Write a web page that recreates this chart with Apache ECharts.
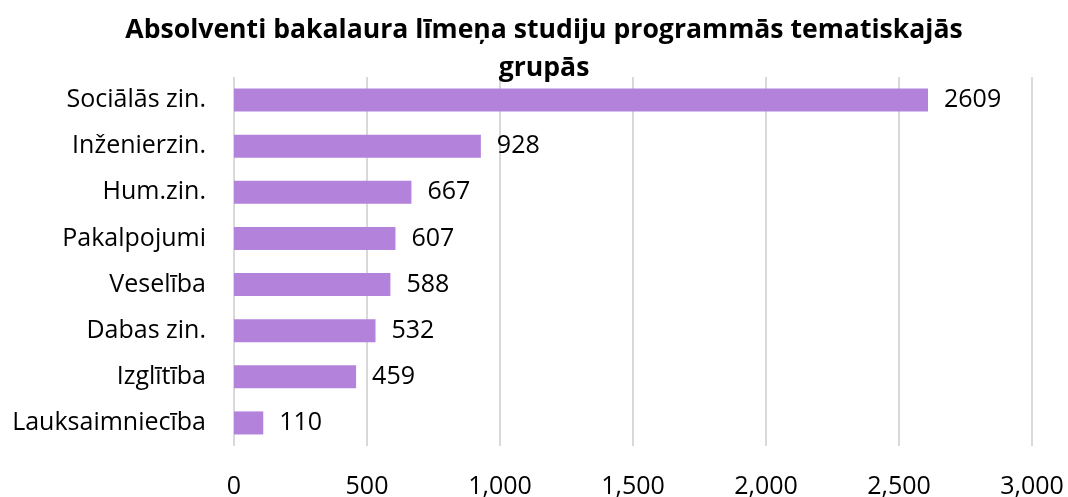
<!DOCTYPE html>
<html>
<head>
<meta charset="utf-8">
<script src="https://cdn.jsdelivr.net/npm/echarts@6/dist/echarts.min.js"></script>
<style>
html,body{margin:0;padding:0;background:#fff;}
#chart{width:1068px;height:497px;}
</style>
</head>
<body>
<div id="chart"></div>
<script>
// kategorijas (no apakšas uz augšu)
var categories = ["Lauksaimniecība", "Izglītība", "Dabas zin.", "Veselība", "Pakalpojumi", "Hum.zin.", "Inženierzin.", "Sociālās zin."];
var values = [110, 459, 532, 588, 607, 667, 928, 2609];
var xTicks = [0, 500, 1000, 1500, 2000, 2500, 3000];

var font = '"Open Sans", sans-serif';

var myChart = echarts.init(document.getElementById("chart"));
var option = {
	animation: false,
	title: {
		text: "Absolventi bakalaura līmeņa studiju programmās tematiskajās\ngrupās",
		left: 539,
		textAlign: "center",
		top: 6,
		textStyle: {
			fontFamily: font,
			fontWeight: "bold",
			fontSize: 26.6,
			lineHeight: 38,
			color: "#000"
		}
	},
	grid: {
		left: 234,
		right: 36,
		top: 77,
		bottom: 51,
		outerBoundsMode: "none",
		containLabel: false
	},
	xAxis: {
		type: "value",
		min: xTicks[0],
		max: xTicks[xTicks.length - 1],
		interval: 500,
		axisLine: {show: false},
		axisTick: {show: false},
		splitLine: {lineStyle: {color: "#d9d9d9", width: 2}},
		axisLabel: {
			margin: 28,
			fontFamily: font,
			fontSize: 25,
			color: "#000",
			formatter: function (v) { return v.toLocaleString("en-US"); }
		}
	},
	yAxis: {
		type: "category",
		data: categories,
		axisLine: {show: false},
		axisTick: {show: false},
		axisLabel: {
			margin: 28,
			fontFamily: font,
			fontSize: 25,
			color: "#000"
		}
	},
	series: [{
		type: "bar",
		data: values,
		barWidth: "50%",
		itemStyle: {color: "#b383db"},
		label: {
			show: true,
			position: "right",
			distance: 16,
			fontFamily: font,
			fontSize: 25,
			color: "#000"
		}
	}]
};
myChart.setOption(option);
</script>
</body>
</html>
